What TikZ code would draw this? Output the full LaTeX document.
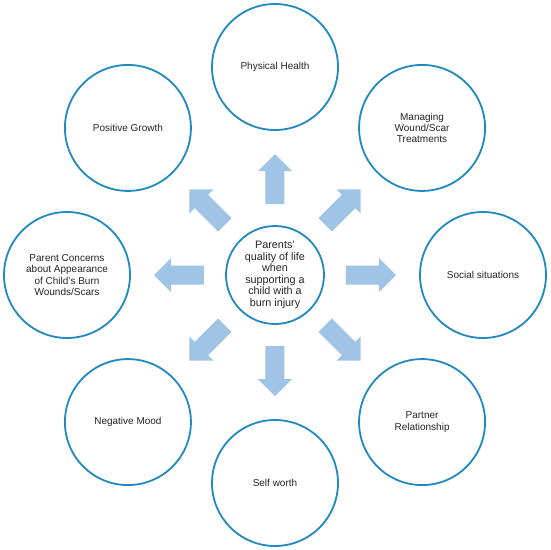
\documentclass[tikz,border=0pt]{standalone}
\usepackage{fontspec}
\setmainfont{Liberation Sans}
\definecolor{ringblue}{RGB}{32,138,192}
\definecolor{arrowblue}{RGB}{160,196,230}
\definecolor{txt}{RGB}{38,38,38}
\begin{document}
\begin{tikzpicture}[x=1pt,y=1pt,
  bubble/.style={circle,draw=ringblue,line width=1.8pt,fill=white,minimum size=126pt,inner sep=0pt,
    align=center,font=\fontsize{10}{11.4}\selectfont,text=txt},
  hub/.style={circle,draw=ringblue,line width=1.8pt,fill=white,minimum size=98pt,inner sep=0pt,
    align=center,font=\fontsize{10.8}{11.6}\selectfont,text=txt},
  blockarrow/.style={fill=arrowblue}]
\useasboundingbox (-275,-275) rectangle (275,275);
\fill[white] (-275,-275) rectangle (275,275);
% arrows
\foreach \a in {0,45,...,315}{
  \fill[blockarrow,rotate=\a] (71,-9.5) -- (104,-9.5) -- (104,-17) -- (121,0) -- (104,17) -- (104,9.5) -- (71,9.5) -- cycle;
}
\node[hub] (c) at (0,0) {Parents’\\quality of life\\when\\supporting a\\child with a\\burn injury};
\node[bubble] (ph) at (90:208) {Physical Health};
\node[bubble] (mw) at (45:208) {Managing\\Wound/Scar\\Treatments};
\node[bubble] (ss) at (0:208) {Social situations};
\node[bubble] (pr) at (-45:208) {Partner\\Relationship};
\node[bubble] (sw) at (-90:208) {Self worth};
\node[bubble] (nm) at (-135:208) {Negative Mood};
\node[bubble] (pc) at (180:208) {Parent Concerns\\about Appearance\\of Child’s Burn\\Wounds/Scars};
\node[bubble] (pg) at (135:208) {Positive Growth};
\end{tikzpicture}
\end{document}
